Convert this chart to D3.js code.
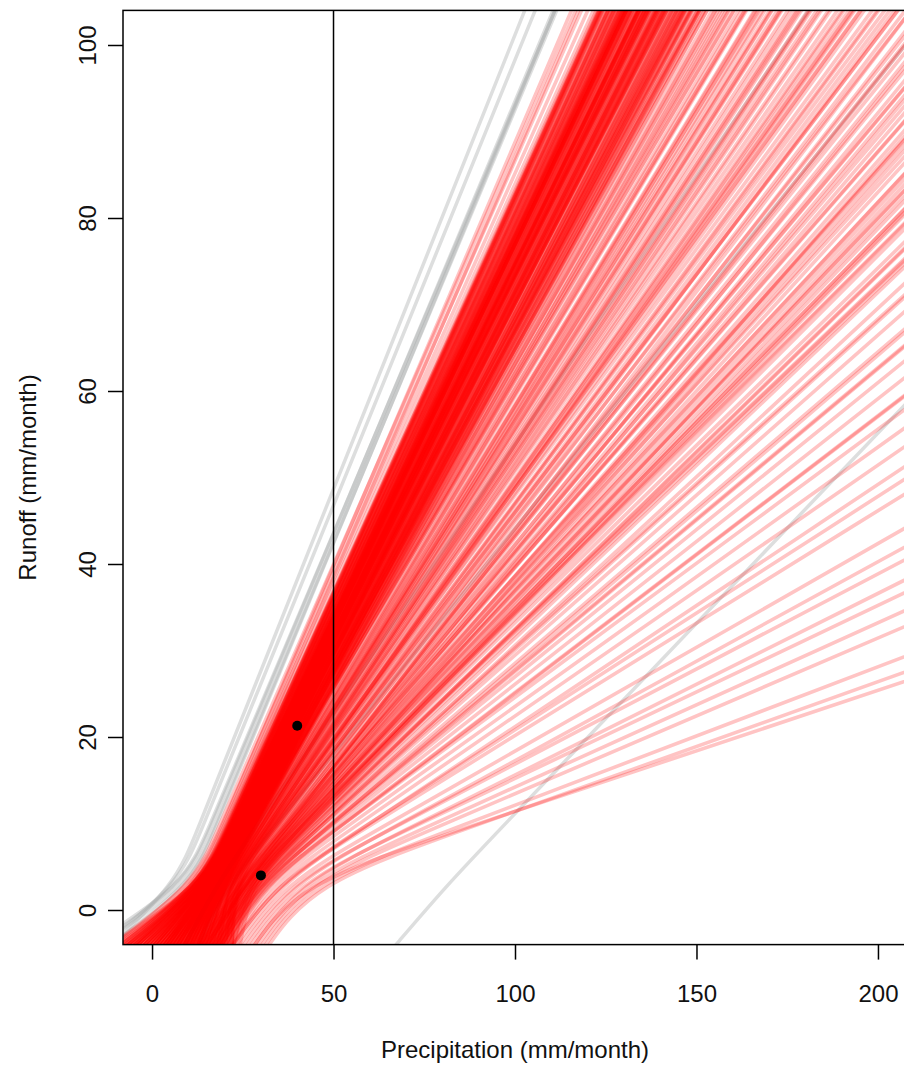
<!DOCTYPE html>
<html lang="en">
<head>
<meta charset="UTF-8">
<title>Runoff vs precipitation</title>
<script src="https://d3js.org/d3.v7.min.js"></script>
<style>
body { margin: 0; background: #fff; }
text { font-family: "Liberation Sans", Arial, sans-serif; fill: #111; }
</style>
</head>
<body>
<div id="container"></div>
<script>
// axis ticks
const xTicks = [0, 50, 100, 150, 200];
const yTicks = [0, 20, 40, 60, 80, 100];

// observed months
const obsPrecip = [30, 40];
const obsRunoff = [4, 21.3];

// reference precipitation (vertical line)
const refPrecip = 50;

// runoff at the knee of every curve
const kneeRunoff = 3;

// red curves: slope of the straight part, precip at the knee,
// precip where the low tail leaves the bottom of the plot
const redSlope = [
  0.98,0.95,0.97,0.94,0.96,0.93,
  0.91,0.85,0.88,0.80,0.92,0.83,0.88,0.78,0.86,0.90,
  0.81,0.87,0.92,0.79,0.84,0.89,0.77,0.82,0.93,0.85,
  0.88,0.79,0.91,0.83,0.87,0.81,0.89,0.86,0.76,0.88,
  0.84,0.92,0.80,0.87,0.82,0.90,0.85,0.78,0.88,0.92,
  0.83,0.86,0.79,0.89,0.84,0.91,0.81,0.87,0.79,0.88,
  0.85,0.82,0.92,0.80,0.88,0.86,0.77,0.90,0.83,0.87,
  0.84,0.88,0.81,0.93,0.85,0.79,0.89,0.82,0.88,0.86,
  0.91,0.78,0.84,0.87,0.83,0.90,0.80,0.88,0.85,0.92,
  0.82,0.86,0.79,0.89,0.84,0.88,0.81,0.92,0.85,0.87,
  0.79,0.83,0.90,0.86,0.82,0.88,0.77,0.84,0.91,0.87,
  0.80,0.85,0.88,0.83,0.89,0.81,0.86,0.92,0.84,0.79,
  0.88,0.85,0.82,0.87,0.90,0.83,0.80,0.86,0.88,0.84,
  0.92,0.81,0.87,0.85,0.78,0.89,0.83,0.88,0.86,0.82,
  0.86,0.80,0.90,0.83,0.77,0.88,0.84,0.91,0.79,0.85,
  0.89,0.82,0.87,0.78,0.92,0.84,0.81,0.86,0.90,0.83,
  0.88,0.80,0.85,0.91,0.82,0.87,0.79,0.89,0.84,0.86,
  0.81,0.90,0.83,0.88,0.78,0.85,0.92,0.82,0.87,0.80,
  0.72,0.64,0.77,0.60,0.69,0.75,0.58,0.66,0.71,0.62,
  0.74,0.67,0.57,0.70,0.63,0.76,0.65,0.59,0.73,0.68,
  0.61,0.75,0.66,0.70,0.56,0.72,0.64,0.78,0.62,0.69,
  0.67,0.59,0.74,0.63,0.71,0.65,0.77,0.60,0.68,0.73,
  0.58,0.70,0.66,0.76,0.62,0.69,0.64,0.72,0.57,0.75,
  0.68,0.61,0.74,0.65,0.71,0.59,0.67,0.73,0.63,0.70,
  0.66,0.76,
  0.48,0.42,0.55,0.45,0.52,0.40,0.58,0.44,0.50,0.47,
  0.43,0.56,0.49,0.41,0.60,0.46,0.53,0.42,0.51,0.57,
  0.44,0.54,0.40,0.48,0.59,0.45,0.50,0.43,0.55,0.47,
  0.48,0.36,0.53,0.41,0.31,0.45,0.55,0.38,0.50,0.33,
  0.43,0.52,0.35,0.47,0.40,0.56,0.32,0.44,0.49,0.37,
  0.54,0.42,0.30,0.46,0.39,0.51,0.34,0.48,0.41,0.53,
  0.36,0.45,0.50,0.38,0.55,0.43,0.32,0.47,0.40,0.52,
  0.35,0.44,
  0.14,0.26,0.18,0.22,0.29,0.16,0.24,0.20,0.28,0.15,0.23,0.19,0.27,0.21
];
const redKnee = [
  12.5,12.0,13.4,12.6,11.5,13.0,
  14.8,16.0,15.9,18.4,13.2,17.5,14.6,19.2,16.8,14.0,
  17.2,15.1,14.5,18.9,16.4,15.6,19.6,17.9,13.8,16.9,
  15.0,18.2,13.9,17.0,16.2,18.6,14.9,15.8,20.0,15.5,
  16.6,14.2,17.4,15.4,17.6,15.1,16.1,19.1,16.0,13.5,
  17.8,16.3,18.0,14.6,17.1,14.4,17.0,15.9,18.8,15.2,
  16.5,17.3,13.7,18.1,15.6,16.6,19.4,14.7,16.8,15.7,
  16.0,14.8,17.7,14.1,16.7,18.5,15.3,17.2,15.1,16.4,
  14.1,18.9,16.9,15.2,17.4,14.9,18.3,15.8,16.2,13.9,
  17.0,15.9,19.0,15.0,16.3,15.8,17.5,13.4,17.0,16.1,
  17.9,16.6,14.3,16.9,18.2,15.4,20.1,16.2,14.6,15.5,
  18.6,16.2,15.3,17.2,14.5,17.1,16.5,14.0,16.8,19.3,
  15.9,17.1,16.8,15.0,14.2,17.9,17.6,16.0,14.8,16.5,
  13.6,18.0,16.4,15.6,18.4,15.2,16.9,15.0,16.7,17.7,
  16.8,18.4,15.2,17.6,19.8,16.0,17.3,14.6,19.0,17.1,
  15.7,18.1,16.5,19.5,14.2,16.9,18.7,16.2,15.0,18.0,
  15.9,18.9,17.4,14.9,18.3,16.3,19.2,15.4,17.8,16.6,
  18.5,15.3,17.5,16.1,20.0,16.8,14.4,17.9,15.8,19.3,
  18.5,20.6,17.0,21.8,19.9,17.6,21.2,20.0,18.0,21.5,
  18.9,19.4,22.6,18.2,20.9,17.4,19.8,22.0,19.1,20.3,
  20.8,18.3,20.5,19.0,22.9,17.9,21.1,16.5,20.2,19.6,
  20.1,21.6,17.8,20.4,19.3,21.9,17.2,22.3,18.7,18.4,
  22.1,19.5,19.2,18.0,21.0,20.6,20.0,18.8,23.0,17.5,
  19.7,21.4,18.6,20.7,18.1,22.4,19.9,17.7,21.3,19.2,
  20.2,17.3,
  23.5,25.4,21.8,24.8,22.6,26.6,21.0,25.0,23.1,24.2,
  25.9,21.5,23.8,26.3,20.5,24.5,22.4,25.7,23.0,21.2,
  25.2,22.0,27.0,23.7,20.8,24.9,23.3,25.8,21.9,24.4,
  25.8,29.1,24.5,28.0,30.4,26.2,23.9,28.8,25.0,30.0,
  27.4,25.6,29.8,26.9,27.9,24.2,31.1,26.6,25.4,28.5,
  24.9,27.0,31.6,26.1,29.3,25.2,29.5,27.2,28.3,24.0,
  30.2,27.6,26.0,28.1,25.5,26.8,30.8,25.7,29.0,24.6,
  29.4,27.8,
  40,34,42,37,33,43,36,39,35,44,38,41,34,40
];
const redFoot = [
  -9,-14,-6,-11,-13,-7,
  -6,4,-2,9,-11,6,-4,12,1,-8,
  7,-1,-9,10,3,-5,13,5,-13,2,
  -3,11,-7,6,0,8,-6,2,14,-2,
  4,-10,9,-1,7,-7,3,12,-3,-12,
  5,1,10,-5,4,-9,8,0,11,-4,
  3,6,-11,8,-2,2,13,-8,5,0,
  2,-5,7,-14,4,10,-3,6,-1,1,
  -9,12,3,-2,6,-6,9,-4,2,-10,
  8,0,11,-7,3,-1,7,-12,4,1,
  10,5,-8,2,7,-3,14,3,-6,-1,
  9,1,-4,5,-6,8,0,-9,3,12,
  -3,4,7,0,-7,6,9,2,-2,3,
  -11,8,-1,4,12,-5,5,-4,1,6,
  2,9,-4,6,12,-1,5,-7,11,3,
  -3,8,1,13,-9,4,10,0,-6,7,
  -2,10,4,-8,8,1,12,-5,6,2,
  9,-4,5,-1,13,3,-10,7,0,11,
  10,16,6,19,12,8,21,14,9,17,
  7,13,22,11,18,4,15,20,8,12,
  18,5,14,10,21,9,16,3,19,11,
  15,20,6,17,10,13,5,22,12,8,
  21,9,16,4,18,11,14,7,22,6,
  12,19,8,17,10,20,13,5,16,11,
  15,2,
  14,19,11,17,13,22,9,18,12,16,
  20,10,15,23,8,17,13,21,14,10,
  19,12,24,15,9,18,14,22,11,16,
  15,18,13,17,20,14,12,17,15,19,
  16,14,18,15,17,12,20,16,13,17,
  14,16,21,14,18,15,18,16,17,12,
  19,17,14,16,14,15,19,13,18,13,
  18,16,
  27,21,29,24,21,30,23,26,22,31,25,28,21,27
];

// grey curves, same description
const greySlope = [1.03, 0.99, 1.01, 1.00, 1.05, 1.00, 0.44, 0.62, 0.52];
const greyKnee  = [7.5, 9.0, 11.0, 9.5, 6.5, 10.5, 81.5, 18.0, 21.0];
const greyFoot  = [-16, -18, -14, -20, -13, -17, 65.6, 8, 12];

const width = 904;
const height = 1066;

const svg = d3.select("#container")
  .append("svg")
  .attr("width", width)
  .attr("height", height);

const x = d3.scaleLinear().domain([-8, 208]).range([123, 907]);
const y = d3.scaleLinear().domain([-4, 104]).range([944.6, 10.4]);

svg.append("clipPath")
  .attr("id", "plotclip")
  .append("rect")
  .attr("x", x(-8)).attr("y", y(104))
  .attr("width", x(208) - x(-8))
  .attr("height", y(-4) - y(104));

// control points of one curve: tail foot, knee, then the straight part
function curvePoints(k, knee, foot) {
  return [
    [foot, -4.8],
    [knee, kneeRunoff],
    [knee + 6 / k, kneeRunoff + 6],
    [knee + 20 / k, kneeRunoff + 20],
    [knee + 160 / k, kneeRunoff + 160]
  ];
}

const line = d3.line()
  .x(d => x(d[0]))
  .y(d => y(d[1]))
  .curve(d3.curveBasis);

const g = svg.append("g").attr("clip-path", "url(#plotclip)");

g.selectAll("path.grey")
  .data(d3.range(greySlope.length))
  .join("path")
  .attr("class", "grey")
  .attr("fill", "none")
  .attr("stroke", "#a9adad")
  .attr("stroke-opacity", 0.4)
  .attr("stroke-width", 3.5)
  .attr("d", i => line(curvePoints(greySlope[i], greyKnee[i], greyFoot[i])));

g.selectAll("path.red")
  .data(d3.range(redSlope.length))
  .join("path")
  .attr("class", "red")
  .attr("fill", "none")
  .attr("stroke", "#ff0000")
  .attr("stroke-opacity", 0.23)
  .attr("stroke-width", 3.6)
  .attr("d", i => line(curvePoints(redSlope[i], redKnee[i], redFoot[i])));

// reference line at 50 mm
svg.append("line")
  .attr("x1", x(refPrecip)).attr("x2", x(refPrecip))
  .attr("y1", y(104)).attr("y2", y(-4))
  .attr("stroke", "#000")
  .attr("stroke-width", 1.5);

// observations
svg.selectAll("circle.obs")
  .data(obsPrecip)
  .join("circle")
  .attr("class", "obs")
  .attr("cx", d => x(d))
  .attr("cy", (d, i) => y(obsRunoff[i]))
  .attr("r", 5)
  .attr("fill", "#000");

// box
svg.append("rect")
  .attr("x", x(-8)).attr("y", y(104))
  .attr("width", x(208) - x(-8))
  .attr("height", y(-4) - y(104))
  .attr("fill", "none")
  .attr("stroke", "#000")
  .attr("stroke-width", 1.5);

// axes
const xAxis = svg.append("g")
  .attr("transform", `translate(0,${y(-4)})`)
  .call(d3.axisBottom(x).tickValues(xTicks).tickSize(15).tickFormat(d3.format("d")));
xAxis.select(".domain").remove();
xAxis.selectAll(".tick line").attr("stroke", "#000").attr("stroke-width", 1.5);
xAxis.selectAll(".tick text")
  .attr("y", 57).attr("dy", 0)
  .attr("font-size", 24)
  .attr("font-family", "Liberation Sans, Arial, sans-serif")
  .attr("fill", "#111");

const yAxis = svg.append("g")
  .attr("transform", `translate(${x(-8)},0)`)
  .call(d3.axisLeft(y).tickValues(yTicks).tickSize(15).tickFormat(d3.format("d")));
yAxis.select(".domain").remove();
yAxis.selectAll(".tick line").attr("stroke", "#000").attr("stroke-width", 1.5);
yAxis.selectAll(".tick text")
  .attr("transform", "rotate(-90)")
  .attr("x", 0).attr("y", -27).attr("dy", 0)
  .attr("text-anchor", "middle")
  .attr("font-size", 24)
  .attr("font-family", "Liberation Sans, Arial, sans-serif")
  .attr("fill", "#111");

// titles
svg.append("text")
  .attr("x", (x(-8) + x(208)) / 2)
  .attr("y", 1058)
  .attr("text-anchor", "middle")
  .attr("font-size", 24)
  .text("Precipitation (mm/month)");

svg.append("text")
  .attr("transform", `translate(36,${(y(-4) + y(104)) / 2}) rotate(-90)`)
  .attr("text-anchor", "middle")
  .attr("font-size", 24)
  .text("Runoff (mm/month)");
</script>
</body>
</html>
